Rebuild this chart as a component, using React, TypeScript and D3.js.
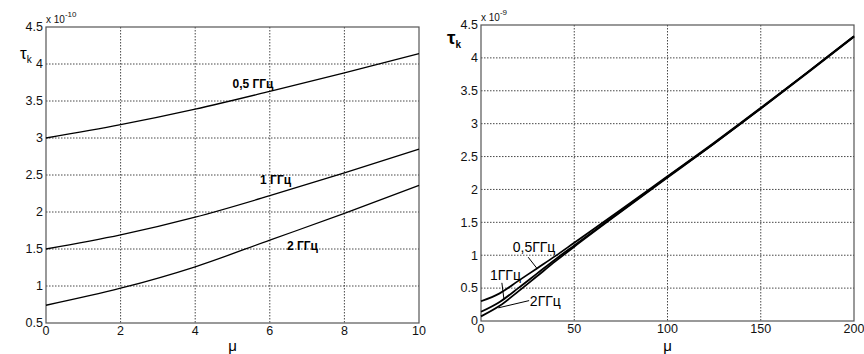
import React, { useRef, useEffect } from 'react';
import * as d3 from 'd3';

// left panel: tau_k (x 1e-10) vs mu, three frequencies
const muLeft = [0, 2, 4, 6, 8, 10];
const tau05Left = [3.0, 3.18, 3.39, 3.63, 3.88, 4.14];
const tau1Left = [1.5, 1.69, 1.93, 2.22, 2.53, 2.85];
const tau2Left = [0.74, 0.97, 1.26, 1.62, 1.98, 2.36];
const xTicksLeft = [0, 2, 4, 6, 8, 10];
const yTicksLeft = [0.5, 1, 1.5, 2, 2.5, 3, 3.5, 4, 4.5];

// right panel: tau_k (x 1e-9) vs mu
const muRight = [0, 10, 20, 30, 40, 50, 75, 100, 125, 150, 175, 200];
const tau05Right = [0.3, 0.42, 0.61, 0.8, 0.99, 1.19, 1.69, 2.2, 2.71, 3.24, 3.78, 4.33];
const tau1Right = [0.14, 0.29, 0.5, 0.72, 0.94, 1.15, 1.67, 2.19, 2.7, 3.23, 3.78, 4.33];
const tau2Right = [0.07, 0.23, 0.45, 0.68, 0.91, 1.13, 1.66, 2.18, 2.7, 3.23, 3.77, 4.32];
const xTicksRight = [0, 50, 100, 150, 200];
const yTicksRight = [0, 0.5, 1, 1.5, 2, 2.5, 3, 3.5, 4, 4.5];

const FONT = 'Liberation Sans, Arial, sans-serif';

interface Panel {
  box: { x0: number; x1: number; y0: number; y1: number };
  xDomain: [number, number];
  yDomain: [number, number];
  xTicks: number[];
  yTicks: number[];
  exponent: string;
  series: { mu: number[]; tau: number[]; width: number }[];
  labels: { text: string; mu: number; tau: number; bold: boolean }[];
  leaders: [number, number, number, number][];
  tauBold: boolean;
}

const panels: Panel[] = [
  {
    box: { x0: 46, x1: 419, y0: 27, y1: 323 },
    xDomain: [0, 10],
    yDomain: [0.5, 4.5],
    xTicks: xTicksLeft,
    yTicks: yTicksLeft,
    exponent: '-10',
    series: [
      { mu: muLeft, tau: tau05Left, width: 1.3 },
      { mu: muLeft, tau: tau1Left, width: 1.3 },
      { mu: muLeft, tau: tau2Left, width: 1.3 },
    ],
    labels: [
      { text: '0,5 ГГц', mu: 5.0, tau: 3.68, bold: true },
      { text: '1 ГГц', mu: 5.74, tau: 2.38, bold: true },
      { text: '2 ГГц', mu: 6.46, tau: 1.49, bold: true },
    ],
    leaders: [],
    tauBold: false,
  },
  {
    box: { x0: 481, x1: 854, y0: 25, y1: 321 },
    xDomain: [0, 200],
    yDomain: [0, 4.5],
    xTicks: xTicksRight,
    yTicks: yTicksRight,
    exponent: '-9',
    series: [
      { mu: muRight, tau: tau05Right, width: 1.8 },
      { mu: muRight, tau: tau1Right, width: 1.8 },
      { mu: muRight, tau: tau2Right, width: 1.8 },
    ],
    labels: [
      { text: '0,5ГГц', mu: 17.0, tau: 1.05, bold: false },
      { text: '1ГГц', mu: 4.8, tau: 0.63, bold: false },
      { text: '2ГГц', mu: 26.2, tau: 0.23, bold: false },
    ],
    leaders: [
      [25.3, 0.97, 30, 0.8],
      [11.2, 0.58, 12.3, 0.33],
      [25.8, 0.31, 9.3, 0.2],
    ],
    tauBold: true,
  },
];

const App: React.FC = () => {
  const svgRef = useRef<SVGSVGElement>(null);

  useEffect(() => {
    if (!svgRef.current) return;
    document.body.style.margin = '0';
    const svg = d3.select(svgRef.current);
    svg.selectAll('*').remove();

    panels.forEach((p) => {
      const { x0, x1, y0, y1 } = p.box;
      const x = d3.scaleLinear().domain(p.xDomain).range([x0, x1]);
      const y = d3.scaleLinear().domain(p.yDomain).range([y1, y0]);
      const g = svg.append('g');

      // white plot area
      g.append('rect').attr('x', x0).attr('y', y0)
        .attr('width', x1 - x0).attr('height', y1 - y0).attr('fill', '#fff');

      // dotted grid
      g.selectAll('.vgrid').data(p.xTicks.slice(1, -1)).enter().append('line')
        .attr('x1', (d) => x(d)).attr('x2', (d) => x(d))
        .attr('y1', y0).attr('y2', y1)
        .attr('stroke', '#333').attr('stroke-width', 0.9).attr('stroke-dasharray', '1.5,1.5');
      g.selectAll('.hgrid').data(p.yTicks.slice(1, -1)).enter().append('line')
        .attr('x1', x0).attr('x2', x1)
        .attr('y1', (d) => y(d)).attr('y2', (d) => y(d))
        .attr('stroke', '#333').attr('stroke-width', 0.9).attr('stroke-dasharray', '1.5,1.5');

      // frame
      g.append('rect').attr('x', x0).attr('y', y0)
        .attr('width', x1 - x0).attr('height', y1 - y0)
        .attr('fill', 'none').attr('stroke', '#555').attr('stroke-width', 1.2);

      // tick labels
      g.selectAll('.xt').data(p.xTicks).enter().append('text')
        .attr('x', (d) => x(d)).attr('y', y1 + 12)
        .attr('text-anchor', 'middle').attr('font-family', FONT).attr('font-size', 12.5)
        .attr('fill', '#111').text((d) => String(d));
      g.selectAll('.yt').data(p.yTicks).enter().append('text')
        .attr('x', x0 - 3).attr('y', (d) => y(d)).attr('dy', '0.35em')
        .attr('text-anchor', 'end').attr('font-family', FONT).attr('font-size', 12.5)
        .attr('fill', '#111').text((d) => String(d));

      // exponent
      const ex = g.append('text').attr('x', x0).attr('y', y0 - 4)
        .attr('font-family', FONT).attr('font-size', 10).attr('fill', '#111');
      ex.append('tspan').text('x 10');
      ex.append('tspan').attr('dy', -6).attr('font-size', 8).text(p.exponent);

      // curves
      const line = d3.line<[number, number]>()
        .x((d) => x(d[0])).y((d) => y(d[1]))
        .curve(d3.curveMonotoneX);
      p.series.forEach((s) => {
        g.append('path')
          .datum(s.mu.map((m, i) => [m, s.tau[i]] as [number, number]))
          .attr('d', line)
          .attr('fill', 'none').attr('stroke', '#000').attr('stroke-width', s.width);
      });

      // leader lines
      p.leaders.forEach(([ma, ta, mb, tb]) => {
        g.append('line')
          .attr('x1', x(ma)).attr('y1', y(ta)).attr('x2', x(mb)).attr('y2', y(tb))
          .attr('stroke', '#000').attr('stroke-width', 1);
      });

      // curve labels
      p.labels.forEach((l) => {
        g.append('text').attr('x', x(l.mu)).attr('y', y(l.tau))
          .attr('font-family', FONT).attr('font-size', l.bold ? 12 : 14)
          .attr('font-weight', l.bold ? 'bold' : 'normal')
          .attr('fill', '#000').text(l.text);
      });

      // axis titles
      const tau = g.append('text')
        .attr('x', x0 - (p.tauBold ? 34 : 26)).attr('y', y0 + (p.tauBold ? 19 : 32))
        .attr('font-family', FONT).attr('font-size', p.tauBold ? 19 : 17)
        .attr('font-weight', p.tauBold ? 'bold' : 'normal').attr('fill', '#000');
      tau.append('tspan').text('τ');
      tau.append('tspan').attr('dy', 4).attr('font-size', 10).text('k');

      g.append('text').attr('x', (x0 + x1) / 2).attr('y', 351)
        .attr('text-anchor', 'middle').attr('font-family', FONT).attr('font-size', 15)
        .attr('fill', '#000').text('μ');
    });
  }, []);

  return (
    <svg
      ref={svgRef}
      width={864}
      height={354}
      style={{ display: 'block', position: 'absolute', left: 0, top: 0, background: '#fff' }}
    />
  );
};

export default App;
